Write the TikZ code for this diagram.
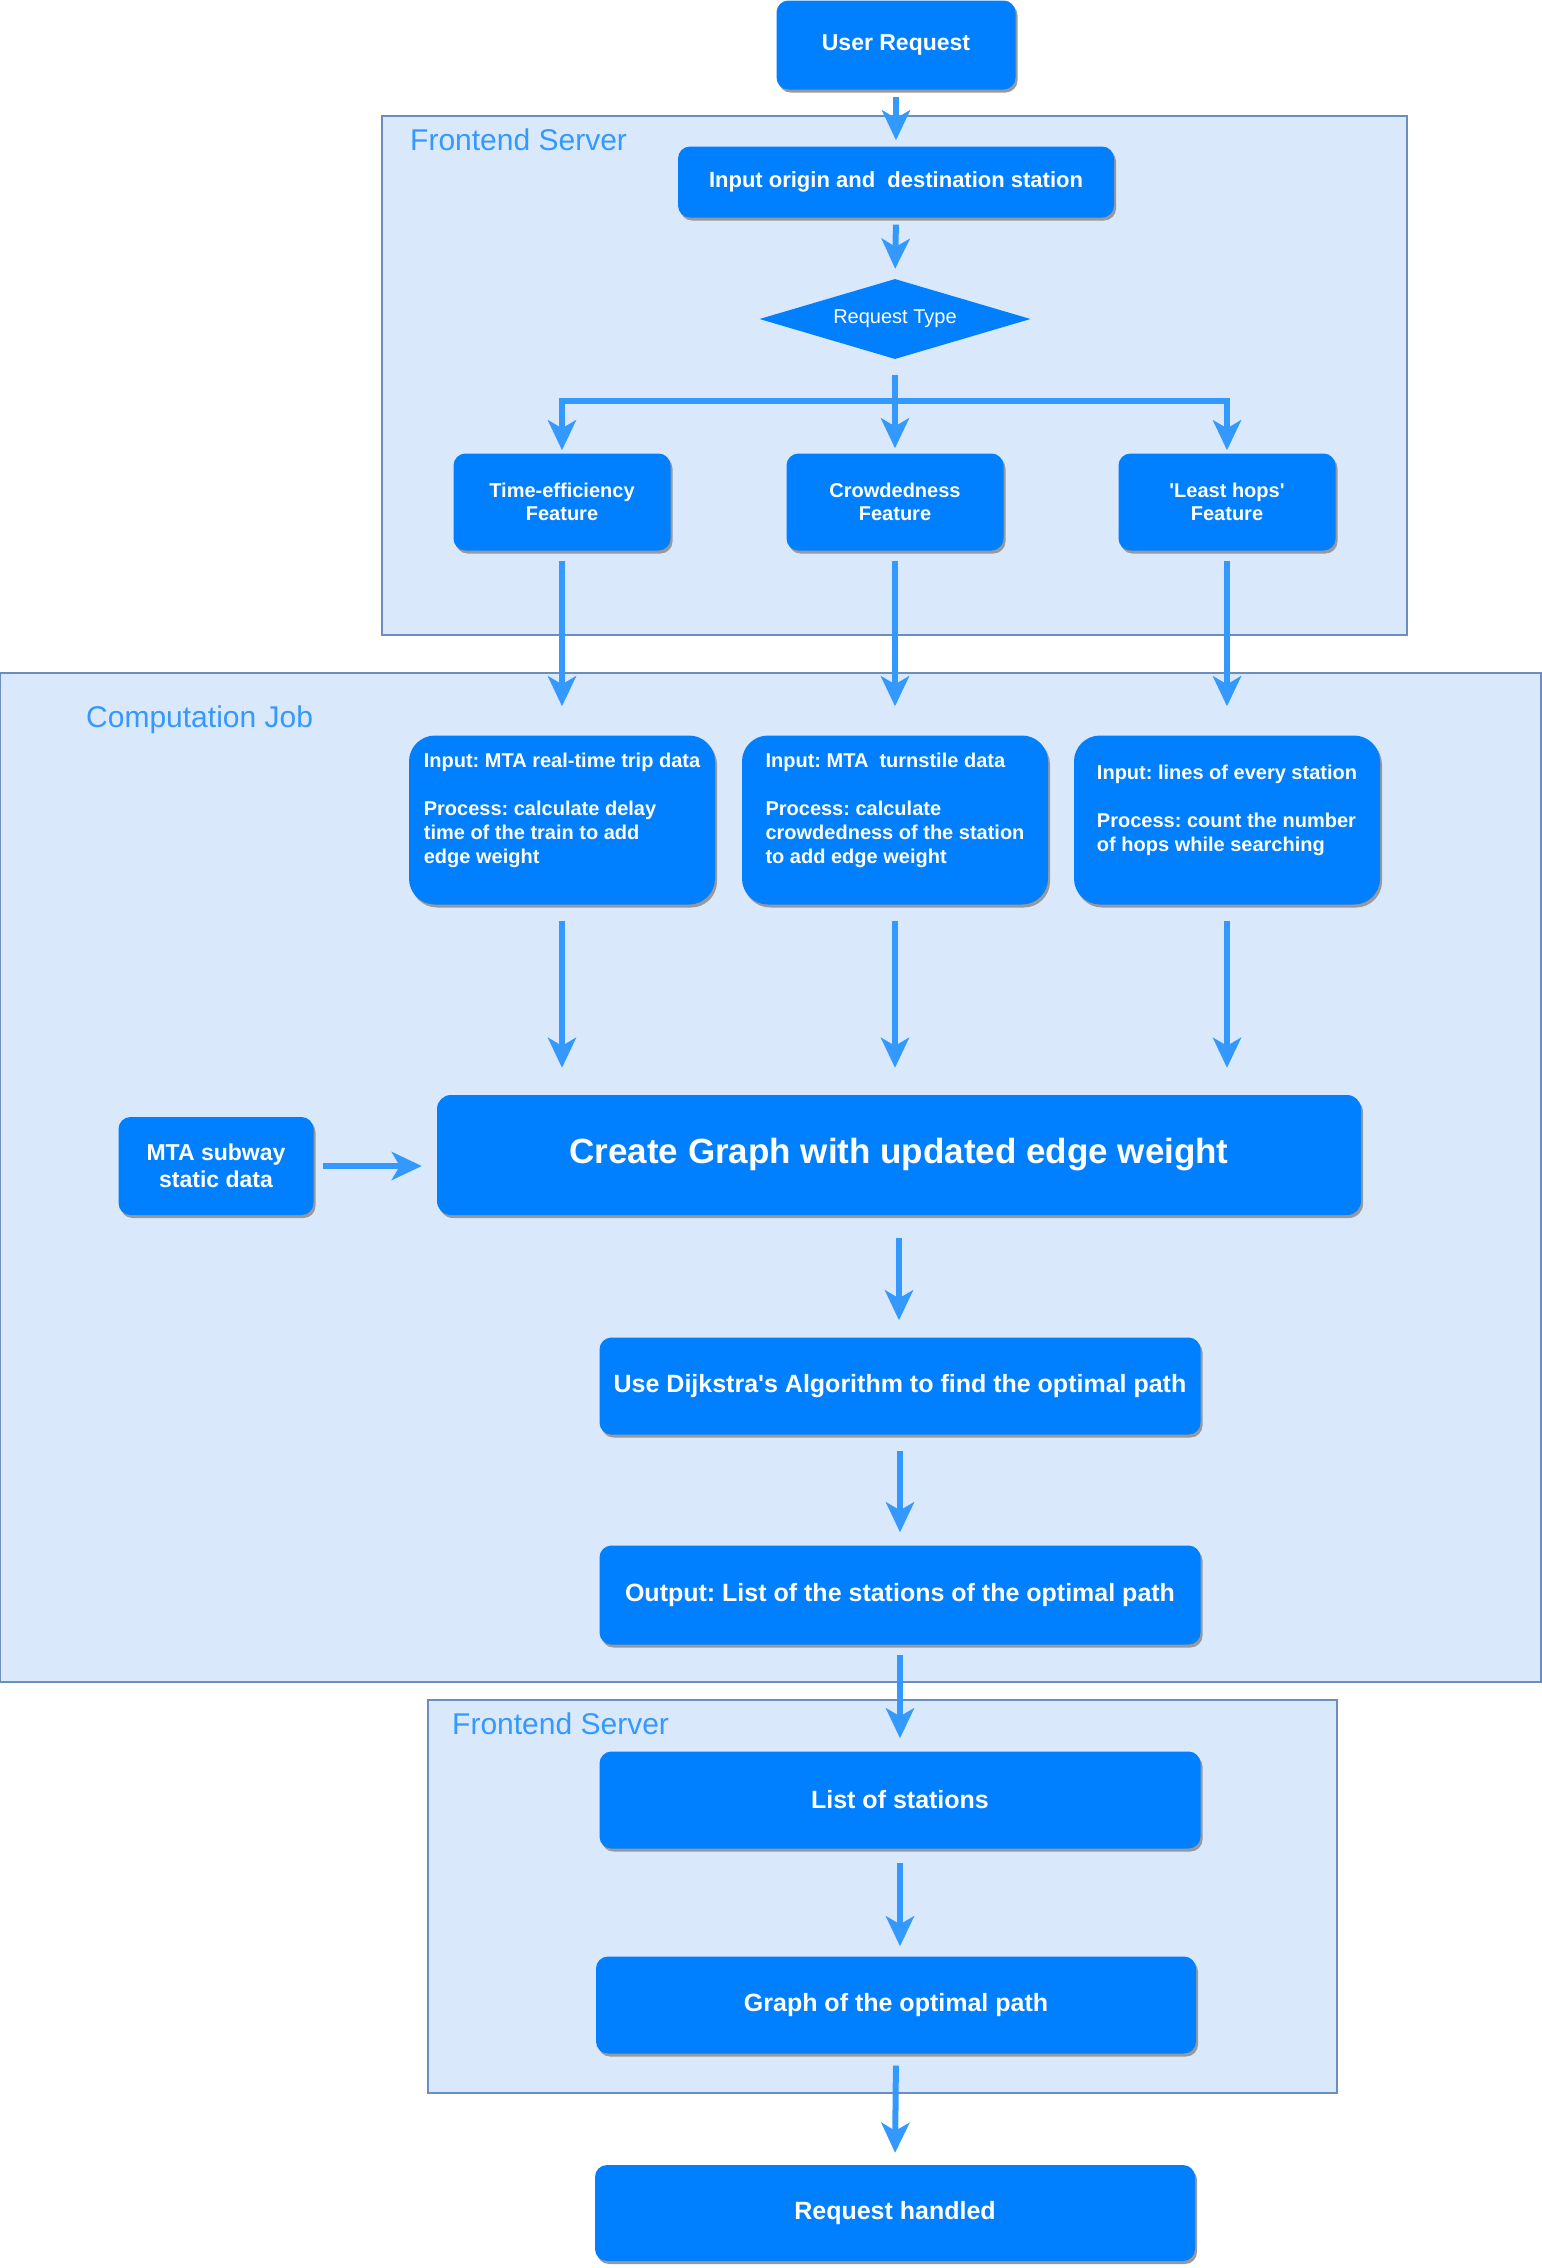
\documentclass[tikz,border=0pt]{standalone}
\usepackage{fontspec}
\setmainfont{Liberation Sans}
\usepackage{tikz}
\usetikzlibrary{arrows.meta}
\usetikzlibrary{positioning,shapes.geometric,shadows}
\definecolor{boxblue}{HTML}{007FFF}
\definecolor{flowblue}{HTML}{3399FF}
\definecolor{laneblue}{HTML}{DAE8FC}
\definecolor{laneedge}{HTML}{6C8EBF}
\frenchspacing

\begin{document}
\begin{tikzpicture}[
x=1pt,y=-1pt,
Lane/.style={draw=laneedge,fill=laneblue,line width=1.5pt},
LaneLabel/.style={anchor=west,inner sep=0pt,text=flowblue,font=\fontsize{30}{36}\selectfont},
Box/.style={fill=boxblue,text=white,rounded corners=12pt,align=center,inner sep=0pt,
  font=\bfseries\fontsize{25}{29}\selectfont,
  drop shadow={shadow xshift=2pt,shadow yshift=-3pt,fill=black!40,opacity=1}},
SmallBox/.style={Box,font=\bfseries\fontsize{20}{23}\selectfont},
InBox/.style={Box,rounded corners=26pt,align=left,minimum width=306pt,minimum height=169pt,
  font=\bfseries\fontsize{20}{24}\selectfont},
Flow/.style={draw=flowblue,line width=6pt,-{Stealth[length=30pt,width=28pt,inset=8pt]},
  shorten <=12pt,shorten >=12pt}
]
\useasboundingbox (0,0) rectangle (1542,2268);

% the three lanes
\draw[Lane] (382,116) rectangle (1407,635);
\node[LaneLabel] (fe1) at (410,140) {Frontend Server};
\draw[Lane] (0,673) rectangle (1541,1682);
\node[LaneLabel] (job) at (86,720) {Computation Job};
\draw[Lane] (428,1700) rectangle (1337,2093);
\node[LaneLabel] (fe2) at (452,1724) {Frontend Server};

% request and feature choice
\node[Box,minimum width=239pt,minimum height=89pt,font=\bfseries\fontsize{23}{27}\selectfont] (user) at (896,45) {User Request};
\node[Box,minimum width=436pt,minimum height=71pt,font=\bfseries\fontsize{22}{26}\selectfont] (origin) at (896,182) {Input origin and~ destination station};
\node[diamond,aspect=3.4,inner sep=0pt,fill=boxblue,text=white,minimum width=271pt,minimum height=80pt,
  font=\fontsize{20}{24}\selectfont] (reqtype) at (895,319) {Request Type};
\coordinate (fork) at (895,401);

\node[SmallBox,minimum width=217pt,minimum height=97pt] (timef) at (562,502) {Time-efficiency\\Feature};
\node[SmallBox,minimum width=217pt,minimum height=97pt] (crowdf) at (895,502) {Crowdedness\\Feature};
\node[SmallBox,minimum width=217pt,minimum height=97pt] (hopsf) at (1227,502) {\textquotesingle Least hops\textquotesingle\\Feature};

% computation job
\node[InBox] (inTime) at (562,820) {Input: MTA real-time trip data\\[24pt]Process: calculate delay\\time of the train to add\\edge weight\\ \mbox{}};
\node[InBox] (inCrowd) at (895,820) {Input: MTA~ turnstile data\\[24pt]Process: calculate\\crowdedness of the station\\to add edge weight\\ \mbox{}};
\node[InBox] (inHops) at (1227,820) {Input: lines of every station\\[24pt]Process: count the number\\of hops while searching\\ \mbox{}};

\node[Box,minimum width=924pt,minimum height=120pt,rounded corners=14pt,font=\bfseries\fontsize{35}{42}\selectfont] (create) at (899,1155) {Create Graph with updated edge weight};
\node[Box,minimum width=195pt,minimum height=98pt,font=\bfseries\fontsize{23}{27}\selectfont] (mta) at (216,1166) {MTA subway\\static data};
\node[Box,minimum width=601pt,minimum height=97pt] (dijk) at (900,1386) {Use Dijkstra\textquotesingle s Algorithm to find the optimal path};
\node[Box,minimum width=601pt,minimum height=99pt] (output) at (900,1595) {Output: List of the stations of the optimal path};

% back to the frontend
\node[Box,minimum width=601pt,minimum height=97pt] (stations) at (900,1800) {List of stations};
\node[Box,minimum width=600pt,minimum height=97pt] (graph) at (896,2005) {Graph of the optimal path};
\node[Box,minimum width=600pt,minimum height=96pt] (done) at (895,2213) {Request handled};

% arrows
\draw[Flow,shorten <=7pt,shorten >=6pt] (user.south) -- (origin.north);
\draw[Flow,shorten <=7pt,shorten >=10pt] (origin.south) -- (reqtype.north);
\draw[Flow,shorten <=16pt,shorten >=5pt] (reqtype.south) -- (crowdf.north);
\draw[Flow,shorten <=16pt,shorten >=3pt] (reqtype.south) -- (fork) -| (timef.north);
\draw[Flow,shorten <=16pt,shorten >=3pt] (reqtype.south) -- (fork) -| (hopsf.north);

\draw[Flow,shorten <=10pt,shorten >=29pt] (timef.south) -- (inTime.north);
\draw[Flow,shorten <=10pt,shorten >=29pt] (crowdf.south) -- (inCrowd.north);
\draw[Flow,shorten <=10pt,shorten >=29pt] (hopsf.south) -- (inHops.north);

\draw[Flow,shorten <=16pt,shorten >=27pt] (inTime.south) -- (inTime.south |- create.north);
\draw[Flow,shorten <=16pt,shorten >=27pt] (inCrowd.south) -- (inCrowd.south |- create.north);
\draw[Flow,shorten <=16pt,shorten >=27pt] (inHops.south) -- (inHops.south |- create.north);
\draw[Flow,shorten <=9pt,shorten >=15pt] (mta.east) -- (mta.east -| create.west);

\draw[Flow,shorten <=23pt,shorten >=17pt] (create.south) -- (create.south |- dijk.north);
\draw[Flow,shorten <=16pt,shorten >=13pt] (dijk.south) -- (output.north);
\draw[Flow,shorten <=10pt,shorten >=13pt] (output.south) -- (stations.north);
\draw[Flow,shorten <=14pt,shorten >=10pt] (stations.south) -- (stations.south |- graph.north);
\draw[Flow] (graph.south) -- (done.north);

\end{tikzpicture}
\end{document}
